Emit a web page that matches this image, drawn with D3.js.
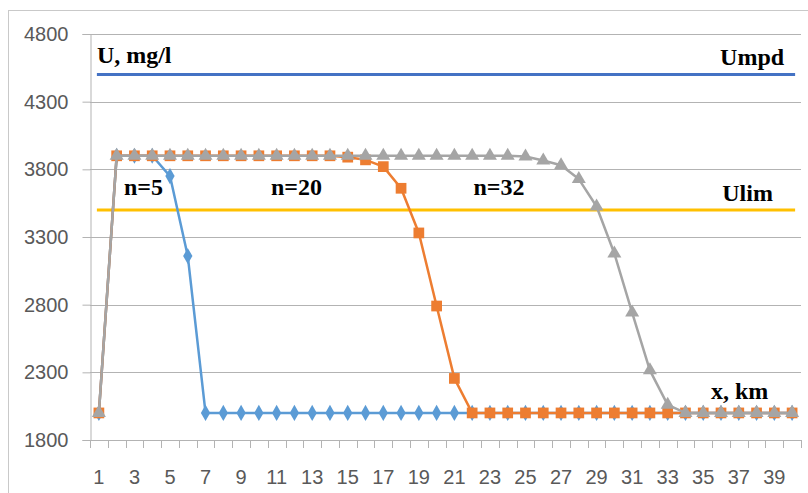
<!DOCTYPE html>
<html>
<head>
<meta charset="utf-8">
<script src="https://cdn.jsdelivr.net/npm/d3@7"></script>
<style>
  body { margin: 0; background: #fff; }
  .lbl { font-family: "Liberation Serif", "Times New Roman", serif; font-weight: bold; font-size: 24px; fill: #000; }
  .tick text { font-family: "Liberation Sans", Arial, sans-serif; font-size: 20px; fill: #595959; }
</style>
</head>
<body>
<div id="chart"></div>
<script>
// categories (x, km)
var categories = d3.range(1, 41);

// series values, mg/l
var n5 = [2000, 3900, 3900, 3900, 3750, 3160, 2000, 2000, 2000, 2000,
  2000, 2000, 2000, 2000, 2000, 2000, 2000, 2000, 2000, 2000,
  2000, 2000, 2000, 2000, 2000, 2000, 2000, 2000, 2000, 2000,
  2000, 2000, 2000, 2000, 2000, 2000, 2000, 2000, 2000, 2000];
var n20 = [2000, 3900, 3900, 3900, 3900, 3900, 3900, 3900, 3900, 3900,
  3900, 3900, 3900, 3900, 3890, 3870, 3820, 3660, 3330, 2790,
  2255, 2000, 2000, 2000, 2000, 2000, 2000, 2000, 2000, 2000,
  2000, 2000, 2000, 2000, 2000, 2000, 2000, 2000, 2000, 2000];
var n32 = [2000, 3900, 3900, 3900, 3900, 3900, 3900, 3900, 3900, 3900,
  3900, 3900, 3900, 3900, 3900, 3900, 3900, 3900, 3900, 3900,
  3900, 3900, 3900, 3900, 3895, 3865, 3830, 3728, 3525, 3178,
  2742, 2315, 2060, 2000, 2000, 2000, 2000, 2000, 2000, 2000];

// limit levels
var umpd = 4500;
var ulim = 3500;

var yTicks = [1800, 2300, 2800, 3300, 3800, 4300, 4800];

var svgWidth = 808;
var svgHeight = 493;
var margin = { top: 34, right: 7, bottom: 53, left: 90 };
var width = svgWidth - margin.left - margin.right;
var height = svgHeight - margin.top - margin.bottom;

var svg = d3.select("#chart")
  .append("svg")
  .attr("width", svgWidth)
  .attr("height", svgHeight);

// outer chart border
svg.append("rect")
  .attr("x", 8.5).attr("y", 10.5)
  .attr("width", svgWidth).attr("height", svgHeight)
  .attr("fill", "none")
  .attr("stroke", "#c9c9c9");

var chart = svg.append("g")
  .attr("transform", `translate(${margin.left}, ${margin.top})`);

var x = d3.scaleBand().domain(categories).range([0, width]);
var xc = d => x(d) + x.bandwidth() / 2;
var y = d3.scaleLinear().domain([1800, 4800]).range([height, 0]);

// gridlines
chart.append("g")
  .selectAll("line")
  .data(yTicks)
  .enter()
  .append("line")
  .attr("x1", 0).attr("x2", width)
  .attr("y1", d => Math.round(y(d)) + 0.5)
  .attr("y2", d => Math.round(y(d)) + 0.5)
  .attr("stroke", "#b3b3b3");

// y axis
var leftAxis = d3.axisLeft(y).tickValues(yTicks).tickSize(8).tickPadding(14)
  .tickFormat(d3.format("d"));
var yAxis = chart.append("g").attr("transform", "translate(0.5,0)").call(leftAxis);
yAxis.select(".domain").attr("stroke", "#b3b3b3");
yAxis.selectAll(".tick line").attr("stroke", "#b3b3b3");

// x axis labels (odd categories only)
var bottomAxis = d3.axisBottom(x).tickSize(0).tickPadding(30)
  .tickFormat(d => d % 2 ? d : "");
var xAxis = chart.append("g").attr("transform", `translate(0, ${height})`).call(bottomAxis);
xAxis.select(".domain").remove();

// x axis tick marks between categories
var bounds = categories.map(d => x(d)).concat([width]);
chart.append("g")
  .selectAll("line")
  .data(bounds)
  .enter()
  .append("line")
  .attr("x1", d => Math.round(d) + 0.5).attr("x2", d => Math.round(d) + 0.5)
  .attr("y1", height).attr("y2", height + 8)
  .attr("stroke", "#b3b3b3");

// limit lines
chart.append("line")
  .attr("x1", xc(1) - 2).attr("x2", xc(40) + 3)
  .attr("y1", y(umpd)).attr("y2", y(umpd))
  .attr("stroke", "#4472c4").attr("stroke-width", 3);
chart.append("line")
  .attr("x1", xc(1) - 2).attr("x2", xc(40) + 3)
  .attr("y1", y(ulim)).attr("y2", y(ulim))
  .attr("stroke", "#ffc000").attr("stroke-width", 3);

// series
var series = [
  { values: n5, color: "#5b9bd5", symbol: d3.symbolDiamond, size: 75 },
  { values: n20, color: "#ed7d31", symbol: d3.symbolSquare, size: 115 },
  { values: n32, color: "#a5a5a5", symbol: d3.symbolTriangle, size: 85 }
];

var line = d3.line()
  .x((d, i) => xc(categories[i]))
  .y(d => y(d));

series.forEach(function(s) {
  var g = chart.append("g");
  g.append("path")
    .datum(s.values)
    .attr("d", line)
    .attr("fill", "none")
    .attr("stroke", s.color)
    .attr("stroke-width", 2.5)
    .attr("stroke-linejoin", "round");
  g.selectAll("path.mark")
    .data(s.values)
    .enter()
    .append("path")
    .attr("class", "mark")
    .attr("d", d3.symbol().type(s.symbol).size(s.size))
    .attr("transform", (d, i) => `translate(${xc(categories[i])}, ${y(d)})`)
    .attr("fill", s.color);
});

// text labels
var labels = [
  { text: "U, mg/l", cat: 1, val: 4585, anchor: "start", dx: -2 },
  { text: "Umpd", cat: 40, val: 4570, anchor: "end", dx: -8 },
  { text: "n=5", cat: 3, val: 3610, anchor: "middle", dx: 9 },
  { text: "n=20", cat: 12, val: 3610, anchor: "middle", dx: 2 },
  { text: "n=32", cat: 23, val: 3610, anchor: "middle", dx: 9 },
  { text: "Ulim", cat: 38, val: 3565, anchor: "middle", dx: -9 },
  { text: "x, km", cat: 38, val: 2100, anchor: "middle", dx: -17 }
];
chart.selectAll("text.lbl")
  .data(labels)
  .enter()
  .append("text")
  .attr("class", "lbl")
  .attr("x", d => xc(d.cat) + d.dx)
  .attr("y", d => y(d.val))
  .attr("text-anchor", d => d.anchor)
  .text(d => d.text);
</script>
</body>
</html>
